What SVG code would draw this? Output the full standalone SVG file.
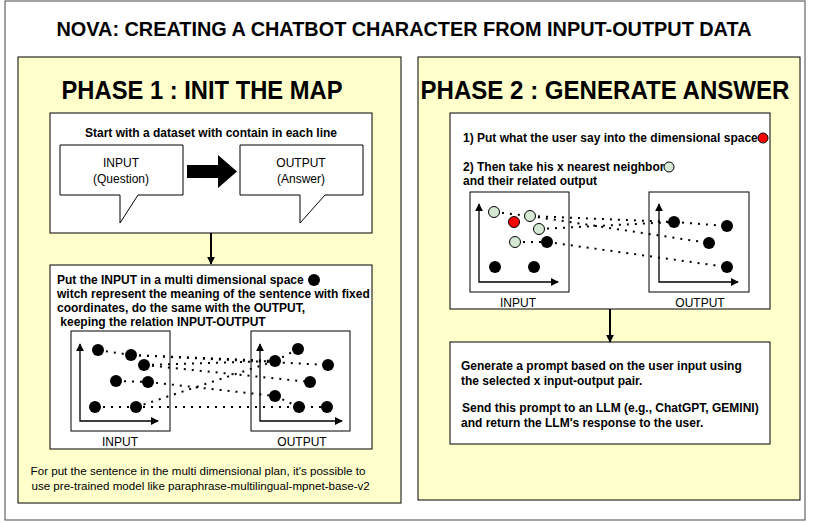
<svg xmlns="http://www.w3.org/2000/svg" width="837" height="523" viewBox="0 0 837 523">
<defs>
<style>
.t{font-family:"Liberation Sans",Arial,sans-serif;fill:#000}
.b{font-weight:bold;font-size:12px}
.r{font-size:12px}
.panel{fill:#FFFFCC;stroke:#000;stroke-width:1}
.box{fill:#fff;stroke:#000;stroke-width:1}
.dot{fill:#000}
.g{fill:#D5E8D4;stroke:#000;stroke-width:1}
.red{fill:#FF0000;stroke:#000;stroke-width:1}
.dl{stroke:#000;stroke-width:2;stroke-dasharray:2 6;fill:none}
.ax{stroke:#000;stroke-width:1.3;fill:none}
</style>
<marker id="ah" viewBox="0 0 10 10" refX="9" refY="5" markerWidth="8" markerHeight="8" markerUnits="userSpaceOnUse" orient="auto"><path d="M0,0 L10,5 L0,10 Z" fill="#000"/></marker>
<marker id="bh" viewBox="0 0 10 10" refX="9" refY="5" markerWidth="8" markerHeight="8" markerUnits="userSpaceOnUse" orient="auto-start-reverse"><path d="M0,0 L10,5 L0,10 Z" fill="#000"/></marker>
</defs>
<rect x="0" y="0" width="837" height="523" fill="#fff"/>
<rect x="5" y="1" width="800" height="519" fill="#fff" stroke="#444" stroke-width="1"/>
<text class="t" x="404" y="36" font-size="20" font-weight="bold" text-anchor="middle" textLength="695" lengthAdjust="spacingAndGlyphs">NOVA: CREATING A CHATBOT CHARACTER FROM INPUT-OUTPUT DATA</text>

<g id="phase1">
<rect class="panel" x="18" y="57" width="383" height="446"/>
<text class="t" x="202" y="99" font-size="26" font-weight="bold" text-anchor="middle" textLength="281" lengthAdjust="spacingAndGlyphs">PHASE 1 : INIT THE MAP</text>
</g>
<g id="phase2">
<rect class="panel" x="418" y="57" width="382" height="443"/>
<text class="t" x="605" y="99" font-size="26" font-weight="bold" text-anchor="middle" textLength="369" lengthAdjust="spacingAndGlyphs">PHASE 2 : GENERATE ANSWER</text>
</g>

<g id="dataset">
<rect class="box" x="50" y="113" width="322" height="120"/>
<text class="t b" x="211" y="137" text-anchor="middle">Start with a dataset with contain in each line</text>
</g>
<g id="input-callout">
<path class="box" d="M60,145 H183 V195 H138 L120,223 V195 H60 Z"/>
<text class="t r" x="121" y="167" text-anchor="middle">INPUT</text>
<text class="t r" x="121" y="183" text-anchor="middle">(Question)</text>
</g>
<g id="output-callout">
<path class="box" d="M240,145 H363 V195 H325 L300,223 V195 H240 Z"/>
<text class="t r" x="301" y="167" text-anchor="middle">OUTPUT</text>
<text class="t r" x="301" y="183" text-anchor="middle">(Answer)</text>
</g>
<g id="block-arrow">
<polygon points="187,165 218,165 218,155 237,171.5 218,188 218,178 187,178" fill="#000"/>
</g>

<g id="embedding">
<rect class="box" x="50" y="265" width="322" height="184"/>
<text class="t b" x="57" y="284">Put the INPUT in a multi dimensional space</text>
<circle class="dot" cx="314" cy="280" r="6"/>
<text class="t b" x="57" y="298">witch represent the meaning of the sentence with fixed</text>
<text class="t b" x="57" y="312">coordinates, do the same with the OUTPUT,</text>
<text class="t b" x="57" y="326" xml:space="preserve"> keeping the relation INPUT-OUTPUT</text>
<rect class="box" x="71" y="331" width="99" height="100"/>
<rect class="box" x="251" y="331" width="99" height="100"/>
<text class="t r" x="120" y="446" text-anchor="middle">INPUT</text>
<text class="t r" x="302" y="446" text-anchor="middle">OUTPUT</text>
<path class="ax" d="M80,344 V421 H158" marker-start="url(#bh)" marker-end="url(#bh)"/>
<path class="ax" d="M260,344 V421 H342" marker-start="url(#bh)" marker-end="url(#bh)"/>
</g>

<g id="neighbors">
<rect class="box" x="450" y="113" width="320" height="196"/>
<text class="t b" x="463" y="142">1) Put what the user say into the dimensional space</text>
<circle class="red" cx="763" cy="138" r="5"/>
<text class="t b" x="463" y="171">2) Then take his x nearest neighbor</text>
<circle class="g" cx="669" cy="167" r="5"/>
<text class="t b" x="463" y="185">and their related output</text>
<rect class="box" x="470" y="192" width="99" height="100"/>
<rect class="box" x="649" y="192" width="100" height="100"/>
<text class="t r" x="518" y="307" text-anchor="middle">INPUT</text>
<text class="t r" x="700" y="307" text-anchor="middle">OUTPUT</text>
<path class="ax" d="M479,204 V282 H558" marker-start="url(#bh)" marker-end="url(#bh)"/>
<path class="ax" d="M659,204 V282 H738" marker-start="url(#bh)" marker-end="url(#bh)"/>
</g>

<g id="prompt">
<rect class="box" x="450" y="342" width="320" height="102"/>
<text class="t b" x="461" y="370">Generate a prompt based on the user input using</text>
<text class="t b" x="461" y="385">the selected x input-output pair.</text>
<text class="t b" x="462" y="412">Send this prompt to an LLM (e.g., ChatGPT, GEMINI)</text>
<text class="t b" x="461" y="427">and return the LLM's response to the user.</text>
</g>

<g id="footnote">
<text class="t" font-size="11.6" x="198" y="475" text-anchor="middle">For put the sentence in the multi dimensional plan, it's possible to</text>
<text class="t" font-size="11.6" x="199" y="490" text-anchor="middle" xml:space="preserve"> use pre-trained model like paraphrase-multilingual-mpnet-base-v2</text>
</g>

<g id="connectors">
<line x1="211" y1="233" x2="211" y2="264" stroke="#000" stroke-width="2" marker-end="url(#ah)"/>
<line x1="610" y1="309" x2="610" y2="342" stroke="#000" stroke-width="2" marker-end="url(#ah)"/>
<g id="phase1-links">
<line class="dl" x1="98" y1="350" x2="131" y2="355"/>
<line class="dl" x1="131" y1="355" x2="275" y2="361"/>
<line class="dl" x1="131" y1="355" x2="328" y2="365"/>
<line class="dl" x1="144" y1="365" x2="275" y2="361"/>
<line class="dl" x1="144" y1="365" x2="310" y2="382"/>
<line class="dl" x1="116" y1="381" x2="148" y2="382"/>
<line class="dl" x1="148" y1="382" x2="275" y2="396"/>
<line class="dl" x1="136" y1="407" x2="275" y2="361"/>
<line class="dl" x1="95" y1="407" x2="327" y2="407"/>
<line class="dl" x1="275" y1="361" x2="298" y2="349"/>
<line class="dl" x1="275" y1="396" x2="299" y2="407"/>
</g>
<g id="phase2-links">
<line class="dl" x1="494" y1="212" x2="530" y2="216"/>
<line class="dl" x1="530" y1="216" x2="674" y2="222"/>
<line class="dl" x1="539" y1="229" x2="674" y2="222"/>
<line class="dl" x1="530" y1="216" x2="709" y2="243"/>
<line class="dl" x1="515" y1="242" x2="547" y2="242"/>
<line class="dl" x1="547" y1="242" x2="727" y2="267"/>
<line class="dl" x1="674" y1="222" x2="727" y2="226"/>
</g>
</g>

<g id="phase1-dots">
<circle class="dot" cx="98" cy="350" r="6"/>
<circle class="dot" cx="131" cy="355" r="6"/>
<circle class="dot" cx="144" cy="365" r="6"/>
<circle class="dot" cx="116" cy="381" r="6"/>
<circle class="dot" cx="148" cy="382" r="6"/>
<circle class="dot" cx="95" cy="407" r="6"/>
<circle class="dot" cx="136" cy="407" r="6"/>
<circle class="dot" cx="298" cy="349" r="6"/>
<circle class="dot" cx="275" cy="361" r="6"/>
<circle class="dot" cx="328" cy="365" r="6"/>
<circle class="dot" cx="310" cy="382" r="6"/>
<circle class="dot" cx="275" cy="396" r="6"/>
<circle class="dot" cx="299" cy="407" r="6"/>
<circle class="dot" cx="327" cy="407" r="6"/>
</g>

<g id="phase2-dots">
<circle class="g" cx="494" cy="212" r="5.5"/>
<circle class="red" cx="514" cy="222" r="5.5"/>
<circle class="g" cx="530" cy="216" r="5.5"/>
<circle class="g" cx="539" cy="229" r="5.5"/>
<circle class="g" cx="515" cy="242" r="5.5"/>
<circle class="dot" cx="547" cy="242" r="6"/>
<circle class="dot" cx="495" cy="267" r="6"/>
<circle class="dot" cx="534" cy="267" r="6"/>
<circle class="dot" cx="674" cy="222" r="6"/>
<circle class="dot" cx="727" cy="226" r="6"/>
<circle class="dot" cx="709" cy="243" r="6"/>
<circle class="dot" cx="727" cy="267" r="6"/>
</g>
</svg>
